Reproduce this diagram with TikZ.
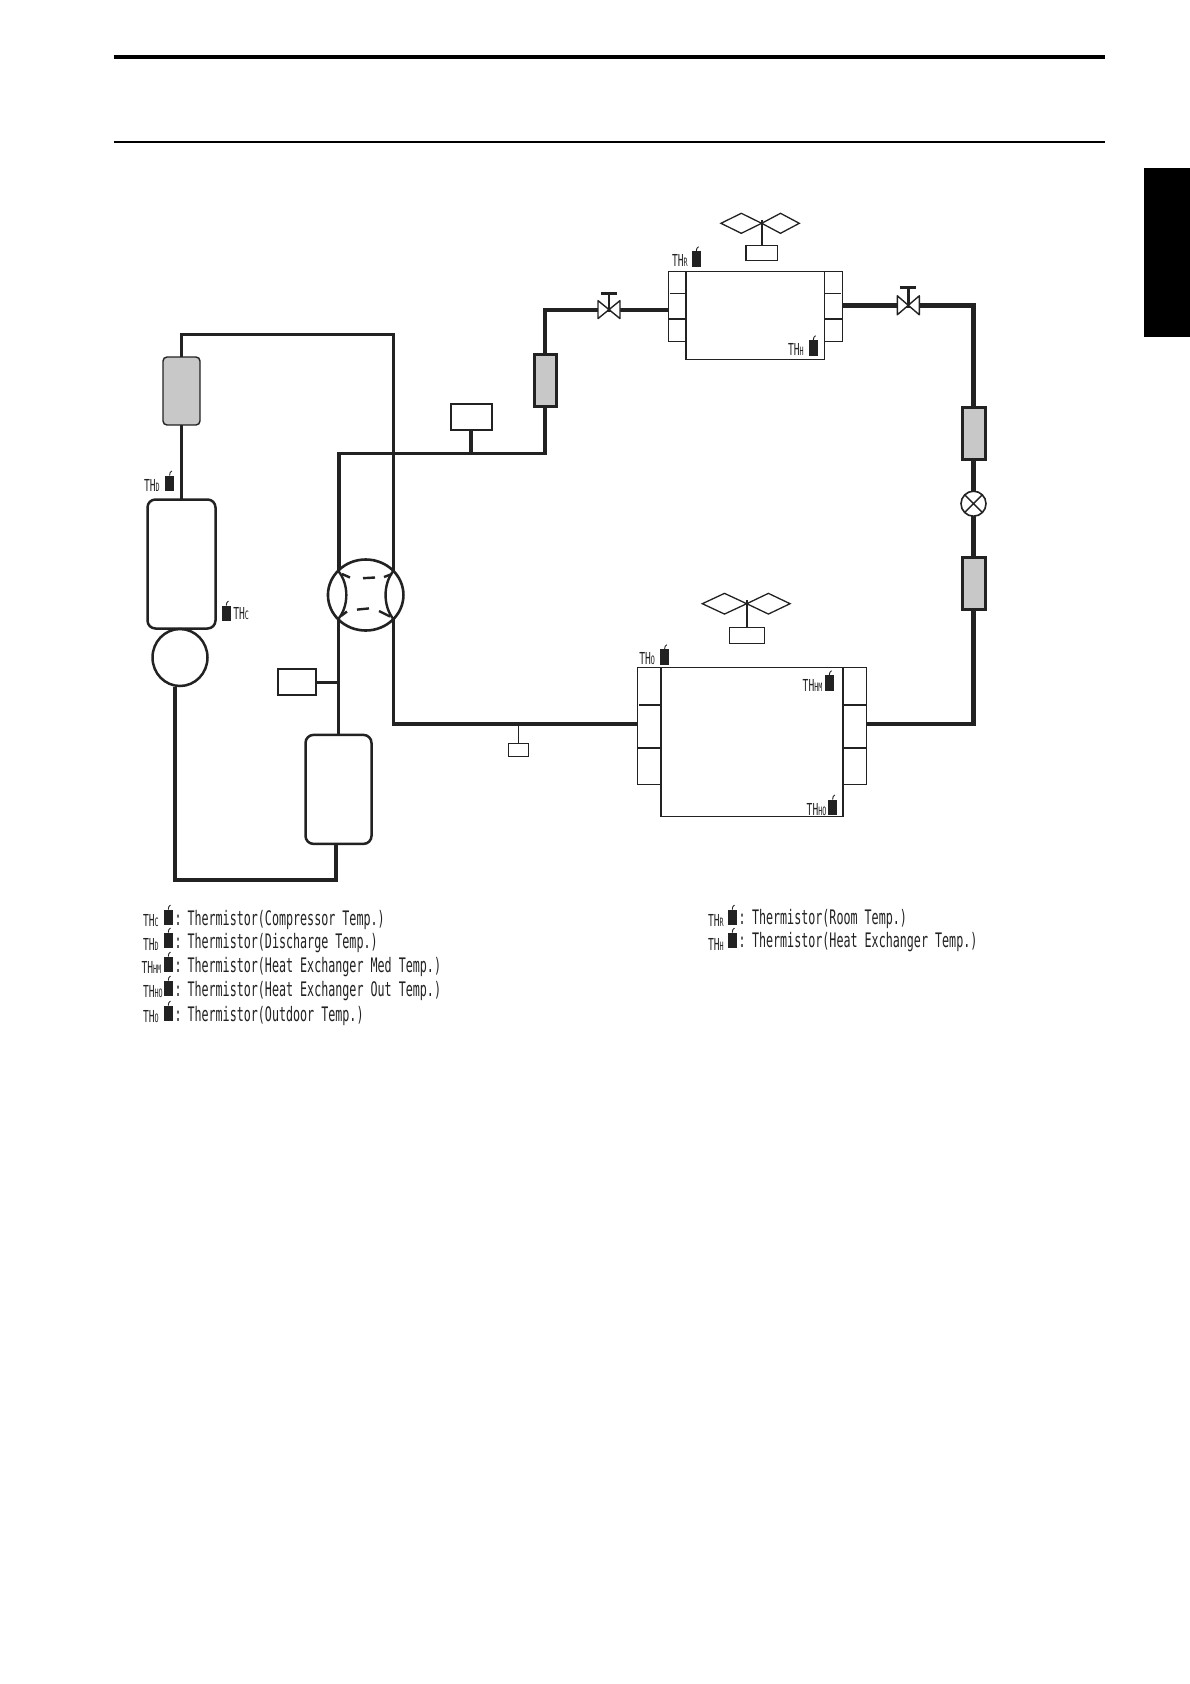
\documentclass[tikz,border=0pt]{standalone}
\usepackage{fontspec}
\usetikzlibrary{shapes.geometric,backgrounds}
\newfontfamily\cadfont[FakeStretch=0.585]{DejaVu Sans Mono}
\newcommand\lgd{\cadfont\fontsize{20}{22}\selectfont}
\newcommand\thname[1]{{\cadfont\fontsize{16.5}{17}\selectfont TH\fontsize{11.5}{12}\selectfont #1}}
\definecolor{ink}{HTML}{222222}
\definecolor{coil}{HTML}{C8C8C8}
\tikzset{
  pipe/.style={line width=3.9pt,draw=ink,line join=miter},
  thickpipe/.style={line width=4.6pt,draw=ink,line join=miter},
  stem/.style={line width=2.2pt,draw=ink},
  thin stem/.style={line width=1.2pt,draw=ink},
  base box/.style={draw=ink,fill=white,inner sep=0pt,outer sep=0pt,rectangle},
  filterbox/.style={base box,fill=coil,line width=3pt,minimum width=23pt,minimum height=52pt},
  vessel/.style={base box,line width=2.5pt,rounded corners=8pt},
  finbox/.style={base box,line width=1.5pt},
  blade/.style={draw=ink,line width=1.3pt,fill=white,diamond,inner sep=0pt,outer sep=0pt,shape aspect=2},
  lab/.style={anchor=base west,inner sep=0pt,outer sep=0pt,text=ink},
  thin rule/.style={draw=ink,line width=1pt},
}
% #1 name, #2 x left, #3 y bottom
\newcommand\thermo[3]{%
  \fill[ink] (#2,#3) rectangle ++(8.8,-15.5);
  \draw[ink,line width=0.9pt] (#2+4.3,#3-15.5) .. controls (#2+4.3,#3-18) and (#2+5,#3-19) .. (#2+6.5,#3-20);
  \coordinate (#1) at (#2,#3);
}
% #1 name, #2 x, #3 y, #4 half width, #5 half height, #6 handle y offset
\newcommand\valve[6]{%
  \coordinate (#1) at (#2,#3);
  \draw[draw=ink,line width=1.4pt,fill=white,line join=round]
     (#1) -- ++(-#4,-#5) -- ++(0,2*#5) -- cycle
     (#1) -- ++(#4,-#5) -- ++(0,2*#5) -- cycle;
  \coordinate (#1h) at (#2,#3-#6);
  \draw[stem,line width=2.6pt] (#1) -- (#1h);
  \draw[stem,line width=3pt] (#2-8,#3-#6) -- (#2+8,#3-#6);
}
\begin{document}
\begin{tikzpicture}[x=1pt,y=-1pt]
\useasboundingbox (0,0) rectangle (1190,1684);
% page furniture
\coordinate (r1a) at (113.5,56.5); \coordinate (r1b) at (1105,56.5);
\coordinate (r2a) at (113.5,141.5); \coordinate (r2b) at (1105,141.5);
\draw[draw=black,line width=4pt] (r1a) -- (r1b);
\draw[draw=black,line width=2pt] (r2a) -- (r2b);
\fill[black] (1144,168) rectangle (1190,337);

% ---- outdoor-side components
\node[base box,fill=coil,line width=1.4pt,rounded corners=4pt,minimum width=37pt,minimum height=68pt] (rec) at (181.5,391) {};
\node[vessel,minimum width=68pt,minimum height=129pt] (comp) at (181.5,564) {};
\node[draw=ink,fill=white,line width=2.5pt,ellipse,inner sep=0pt,outer sep=0pt,minimum width=55pt,minimum height=57pt] (motor) at (180,657.5) {};
\node[vessel,minimum width=66pt,minimum height=109pt] (acc) at (338.5,789.4) {};
\node[draw=ink,fill=white,line width=2.6pt,ellipse,inner sep=0pt,outer sep=0pt,minimum width=75.5pt,minimum height=71pt] (fw) at (365.7,595) {};
\node[filterbox,minimum width=22pt] (f1) at (545,380) {};
\node[filterbox] (f2) at (973.5,433.5) {};
\node[filterbox] (f3) at (973.5,583.5) {};
\node[draw=ink,fill=white,line width=1.6pt,circle,inner sep=0pt,outer sep=0pt,minimum size=25pt] (ev) at (973.5,503.7) {};
\draw[draw=ink,line width=1.4pt] (ev.45) -- (ev.225) (ev.135) -- (ev.315);
\node[base box,line width=2pt,minimum width=41pt,minimum height=26pt] (ps1) at (471,416.5) {};
\node[base box,line width=2pt,minimum width=38pt,minimum height=26pt] (ps2) at (296.5,682) {};
\node[base box,line width=1pt,minimum width=20.5pt,minimum height=13pt] (ps3) at (518.5,750) {};

% ---- indoor unit
\node[finbox,minimum width=17pt,minimum height=70pt] (inL) at (677.2,306.3) {};
\node[finbox,minimum width=17.6pt,minimum height=70pt] (inR) at (833.5,306.3) {};
\node[base box,line width=1.2pt,minimum width=139pt,minimum height=88pt] (inM) at (755.2,315.3) {};
\draw[draw=ink,line width=2pt] (inM.north west) -- (inM.south west);
\draw[thin rule] (670,293.3) -- (inM.west |- 0,293.3);
\draw[draw=ink,line width=1.8pt] (inL.west |- 0,318.7) -- (inM.west |- 0,318.7);
\draw[thin rule] (inM.east |- 0,293.3) -- (841,293.3);
\draw[draw=ink,line width=1.8pt] (inM.east |- 0,318.7) -- (inR.east |- 0,318.7);
% indoor fan
\node[blade,minimum width=40.7pt,minimum height=20pt] (fan1l) at (741.3,223.3) {};
\node[blade,minimum width=37.6pt,minimum height=20pt] (fan1r) at (780.5,223.3) {};
\node[base box,line width=1.2pt,minimum width=31.4pt,minimum height=14.6pt] (fan1m) at (761.7,253) {};
\coordinate (fan1t) at (761.7,220);
\draw[stem] (fan1t) -- (fan1m.north);

% ---- outdoor heat exchanger
\node[finbox,minimum width=23.4pt,minimum height=117.4pt] (outL) at (649,726) {};
\node[finbox,minimum width=23.4pt,minimum height=117.4pt] (outR) at (855,726) {};
\node[base box,line width=1.4pt,minimum width=182.6pt,minimum height=149pt] (outM) at (752,741.8) {};
\draw[draw=ink,line width=2pt] (outM.north west) -- (outM.south west) (outM.north east) -- (outM.south east);
\draw[draw=ink,line width=1.6pt] (639,704.7) -- (outM.west |- 0,704.7);
\draw[draw=ink,line width=1.6pt] (outL.west |- 0,748) -- (outM.west |- 0,748);
\draw[draw=ink,line width=1.6pt] (outM.east |- 0,704.7) -- (866,704.7);
\draw[draw=ink,line width=1.6pt] (outM.east |- 0,748) -- (outR.east |- 0,748);
% outdoor fan
\node[blade,minimum width=44.4pt,minimum height=20.7pt] (fan2l) at (724.5,603.7) {};
\node[blade,minimum width=43.3pt,minimum height=20.7pt] (fan2r) at (768.4,603.7) {};
\node[base box,line width=1.1pt,minimum width=35pt,minimum height=16pt] (fan2m) at (747,635.3) {};
\coordinate (fan2t) at (747,600);
\draw[thin stem] (fan2t) -- (fan2m.north);

% ---- pipes
\coordinate (a2) at (393.5,334.5);
\coordinate (a3) at (393.5,724);
\coordinate (a4) at (637.3,724);
\coordinate (b1) at (339,590);
\coordinate (b2) at (339,453.5);
\coordinate (b3) at (545,453.5);
\coordinate (b4) at (545,309.6);
\coordinate (b5) at (669,309.6);
\coordinate (c1) at (175,687);
\coordinate (c2) at (175,880);
\coordinate (c3) at (336,880);
\coordinate (c4) at (336,844);
\coordinate (d1) at (338.5,600);
\coordinate (e1) at (842.3,305.3);
\coordinate (e2) at (973.5,305.3);
\coordinate (g1) at (973.5,724);
\coordinate (g2) at (866.7,724);
\coordinate (t1) at (471,453.5);
\coordinate (t2) at (338.5,682);
\coordinate (t3) at (518.5,724);
\begin{scope}[on background layer]
\draw[pipe] (rec.north) |- (a2) -- (a3) -- (a4);
\draw[pipe] (rec.south) -- (comp.north);
\draw[pipe] (c1) -- (c2) -- (c3) -- (c4);
\draw[pipe] (b1) -- (b2) -- (b3) -- (f1.south);
\draw[pipe] (f1.north) -- (b4) -- (b5);
\draw[pipe] (d1) -- (acc.north);
\draw[thickpipe] (e1) -- (e2) -- (f2.north);
\draw[thickpipe] (f2.south) -- (ev.north);
\draw[thickpipe] (ev.south) -- (f3.north);
\draw[thickpipe] (f3.south) -- (g1) -- (g2);
\draw[pipe] (t1) -- (ps1.south);
\draw[pipe,line width=3pt] (t2) -- (ps2.east);
\draw[thin stem] (t3) -- (ps3.north);
\end{scope}

% ---- four-way valve interior
\coordinate (fwLt) at (338.3,571); \coordinate (fwLb) at (338.3,619);
\coordinate (fwRt) at (393.3,571); \coordinate (fwRb) at (393.3,619);
\draw[draw=ink,line width=2.4pt] (fwLt) .. controls (349,584) and (349,606) .. (fwLb);
\draw[draw=ink,line width=2.4pt] (fwRt) .. controls (383,584) and (383,606) .. (fwRb);
\draw[draw=ink,line width=2.4pt] (342,574) -- (350,577.5) (363,578.2) -- (375,577.5) (384,577) -- (392,574);
\draw[draw=ink,line width=2.4pt] (341,616) -- (347,611.5) (357,609.6) -- (369,608.4) (379,611) -- (390,616.5);

% ---- valves
\valve{v1}{609}{309.6}{11}{9}{16}
\valve{v2}{908.3}{305.3}{11}{9.5}{18}

% ---- thermistors on the diagram
\thermo{sD}{165.3}{491}
\node[lab] (lD) at (144,491.5) {\thname{D}};
\thermo{sC}{222}{621}
\node[lab] (lC) at (233.3,619.3) {\thname{C}};
\thermo{sR}{692}{266.7}
\node[lab] (lR) at (672,266.7) {\thname{R}};
\thermo{sH}{809}{355.7}
\node[lab] (lH) at (788,355.7) {\thname{H}};
\thermo{sO}{660.3}{664.7}
\node[lab] (lO) at (639.3,664) {\thname{O}};
\thermo{sHM}{825}{690.7}
\node[lab] (lHM) at (802.7,691) {\thname{HM}};
\thermo{sHO}{828.3}{815}
\node[lab] (lHO) at (806.7,815) {\thname{HO}};

% ---- legend, left
\thermo{k1}{164}{925}
\node[lab] (k1l) at (143,926.5) {\thname{C}};
\node[lab] (k1c) at (174.5,925) {\lgd:};
\node[lab] (k1t) at (187.5,925) {\lgd Thermistor(Compressor Temp.)};
\thermo{k2}{164}{948}
\node[lab] (k2l) at (143,950) {\thname{D}};
\node[lab] (k2c) at (174.5,948) {\lgd:};
\node[lab] (k2t) at (187.5,948) {\lgd Thermistor(Discharge Temp.)};
\thermo{k3}{164}{972}
\node[lab] (k3l) at (141.5,973.5) {\thname{HM}};
\node[lab] (k3c) at (174.5,972) {\lgd:};
\node[lab] (k3t) at (187.5,972) {\lgd Thermistor(Heat Exchanger Med Temp.)};
\thermo{k4}{164}{996}
\node[lab] (k4l) at (143,997) {\thname{HO}};
\node[lab] (k4c) at (174.5,996) {\lgd:};
\node[lab] (k4t) at (187.5,996) {\lgd Thermistor(Heat Exchanger Out Temp.)};
\thermo{k5}{164}{1021}
\node[lab] (k5l) at (143,1022) {\thname{O}};
\node[lab] (k5c) at (174.5,1021) {\lgd:};
\node[lab] (k5t) at (187.5,1021) {\lgd Thermistor(Outdoor Temp.)};
% ---- legend, right
\thermo{k6}{728}{925}
\node[lab] (k6l) at (708,926) {\thname{R}};
\node[lab] (k6c) at (738.5,924) {\lgd:};
\node[lab] (k6t) at (752,924) {\lgd Thermistor(Room Temp.)};
\thermo{k7}{728}{948}
\node[lab] (k7l) at (708,950) {\thname{H}};
\node[lab] (k7c) at (738.5,947) {\lgd:};
\node[lab] (k7t) at (752,947) {\lgd Thermistor(Heat Exchanger Temp.)};
\end{tikzpicture}
\end{document}
